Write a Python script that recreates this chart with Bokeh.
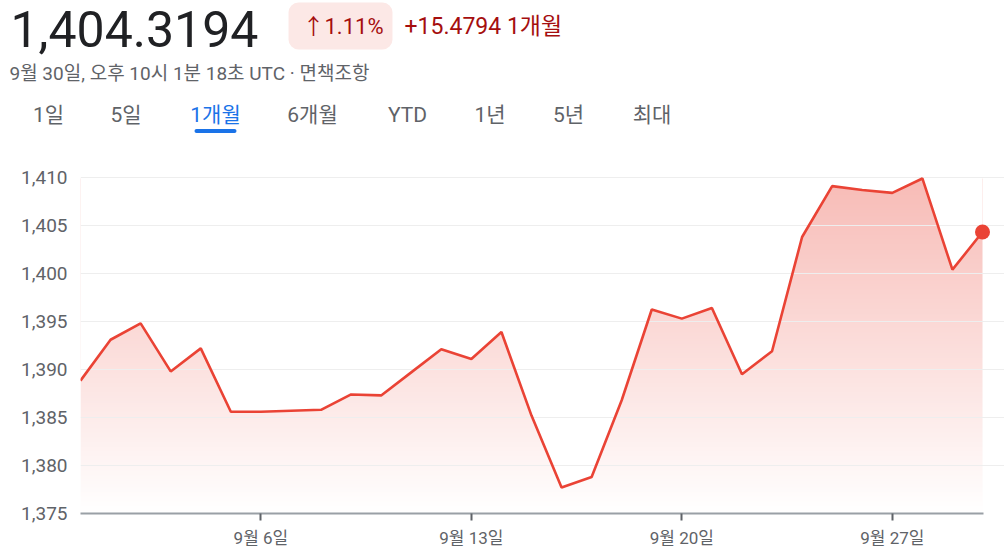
import numpy as np
from bokeh.plotting import figure
from bokeh.layouts import column
from bokeh.models import Range1d, FixedTicker, NumeralTickFormatter
from bokeh.core.properties import value
from bokeh.embed import file_html
from bokeh.resources import INLINE

# ---------------- data ----------------
days = list(range(31))  # 0 = 8월 31일 ... 30 = 9월 30일
values = [1388.84, 1393.1, 1394.8, 1389.8, 1392.2, 1385.6, 1385.6, 1385.7,
          1385.8, 1387.4, 1387.3, 1389.7, 1392.1, 1391.1, 1393.9, 1385.2,
          1377.7, 1378.8, 1386.8, 1396.25, 1395.3, 1396.4, 1389.5, 1391.9,
          1403.8, 1409.1, 1408.7, 1408.4, 1409.9, 1400.4, 1404.3194]
tick_days = [6, 13, 20, 27]
tick_labels = ["9월 6일", "9월 13일", "9월 20일", "9월 27일"]
y_ticks = [1375, 1380, 1385, 1390, 1395, 1400, 1405, 1410]

price_text = "1,404.3194"
change_pct = "↑1.11%"
change_abs = "+15.4794 1개월"
timestamp = "9월 30일, 오후 10시 1분 18초 UTC · 면책조항"
tabs = ["1일", "5일", "1개월", "6개월", "YTD", "1년", "5년", "최대"]
selected_tab = "1개월"

# ---------------- styles / layout ----------------
FONT = "Roboto, 'Noto Sans CJK KR', sans-serif"
RED = "#ea4335"
DARK_RED = "#a50e0e"
GRAY = "#5f6368"
BLUE = "#1a73e8"
W = 1004
HEAD_H = 142
CHART_H = 555 - HEAD_H
tab_x = [48, 125.5, 215, 312, 407, 489.5, 568, 651.5]

# ---------------- header ----------------
header = figure(width=W, height=HEAD_H, x_range=Range1d(0, W), y_range=Range1d(HEAD_H, 0),
                x_axis_type=None, y_axis_type=None, toolbar_location=None,
                output_backend="svg", min_border=0, outline_line_color=None)
header.background_fill_color = "white"
header.border_fill_color = "white"
try:
    header.frame_align = False
except AttributeError:
    pass

header.text(x=[10], y=[28], text=[price_text], text_font=value(FONT), text_font_size="50px",
            text_color="#202124", text_baseline="alphabetic")
header.quad(left=[288], right=[392], top=[2], bottom=[49], fill_color="#fce8e6",
            line_color=None, border_radius=10)
header.text(x=[302], y=[26], text=[change_pct], text_font=value(FONT), text_font_size="22px",
            text_color=DARK_RED, text_baseline="alphabetic")
header.text(x=[404], y=[26], text=[change_abs], text_font=value(FONT), text_font_size="23px",
            text_color=DARK_RED, text_baseline="alphabetic")
header.text(x=[9], y=[73], text=[timestamp], text_font=value(FONT), text_font_size="19px",
            text_color=GRAY, text_baseline="alphabetic")
tab_colors = [BLUE if t == selected_tab else GRAY for t in tabs]
header.text(x=tab_x, y=[114] * len(tabs), text=tabs, text_font=value(FONT),
            text_font_size="21px", text_color=tab_colors, text_align="center",
            text_baseline="alphabetic")
sel = tabs.index(selected_tab)
header.quad(left=[tab_x[sel] - 21], right=[tab_x[sel] + 21], top=[128.5], bottom=[132.5],
            fill_color=BLUE, line_color=None, border_radius=2)

# ---------------- chart ----------------
px_per_day = (982 - 80) / 30.0
x_end = days[0] + (W - 80) / px_per_day
y_end = 1375 + (513 - 152) / 9.6

p = figure(width=W, height=CHART_H, x_range=Range1d(days[0], x_end),
           y_range=Range1d(y_ticks[0], y_end), toolbar_location=None,
           output_backend="svg", min_border_left=80, min_border_right=0,
           min_border_top=10, min_border_bottom=42, outline_line_color=None)
p.background_fill_color = "white"
p.border_fill_color = "white"
try:
    p.frame_align = False
except AttributeError:
    pass

# gradient fill (opaque colours blended on white), masked above the line
N = 256
img = np.zeros((N, 1), dtype=np.uint32)
view = img.view(dtype=np.uint8).reshape((N, 1, 4))
a_top = 0.36
for i in range(N):
    a = a_top * i / (N - 1)
    view[i, 0, 0] = int(round(255 - a * (255 - 234)))
    view[i, 0, 1] = int(round(255 - a * (255 - 67)))
    view[i, 0, 2] = int(round(255 - a * (255 - 53)))
    view[i, 0, 3] = 255
vmax = max(values)
p.image_rgba(image=[img], x=days[0], y=y_ticks[0], dw=days[-1] - days[0], dh=vmax - y_ticks[0],
             level="image")
p.varea(x=days, y1=values, y2=[y_end + 5] * len(days), fill_color="white", level="image")

p.line(days, values, line_color=RED, line_width=2.6)
p.scatter(x=[days[-1]], y=[values[-1]], size=15, fill_color=RED, line_color=None)

# axes
p.xgrid.visible = False
p.ygrid.ticker = FixedTicker(ticks=y_ticks)
p.ygrid.grid_line_color = "#eeeeee"
p.ygrid.grid_line_width = 1
p.ygrid.bounds = (days[0], days[-1] + 0.03)

xa = p.xaxis[0]
xa.ticker = FixedTicker(ticks=tick_days)
xa.major_label_overrides = {d: l for d, l in zip(tick_days, tick_labels)}
xa.major_tick_in = 0
xa.major_tick_out = 7
xa.major_tick_line_color = GRAY
xa.major_tick_line_width = 2
xa.minor_tick_line_color = None
xa.axis_line_color = "#9aa0a6"
xa.axis_line_width = 2
xa.bounds = (days[0], days[-1] + 0.03)
xa.major_label_text_font = FONT
xa.major_label_text_font_size = "17px"
xa.major_label_text_color = GRAY
xa.major_label_standoff = 7

ya = p.yaxis[0]
ya.ticker = FixedTicker(ticks=y_ticks)
ya.formatter = NumeralTickFormatter(format="0,0")
ya.axis_line_color = None
ya.major_tick_line_color = None
ya.minor_tick_line_color = None
ya.major_tick_out = 0
ya.major_tick_in = 0
ya.major_label_standoff = 13
ya.major_label_text_font = FONT
ya.major_label_text_font_size = "19px"
ya.major_label_text_color = GRAY

layout = column(header, p, spacing=0)
open("out.html", "w").write(file_html(layout, INLINE))
